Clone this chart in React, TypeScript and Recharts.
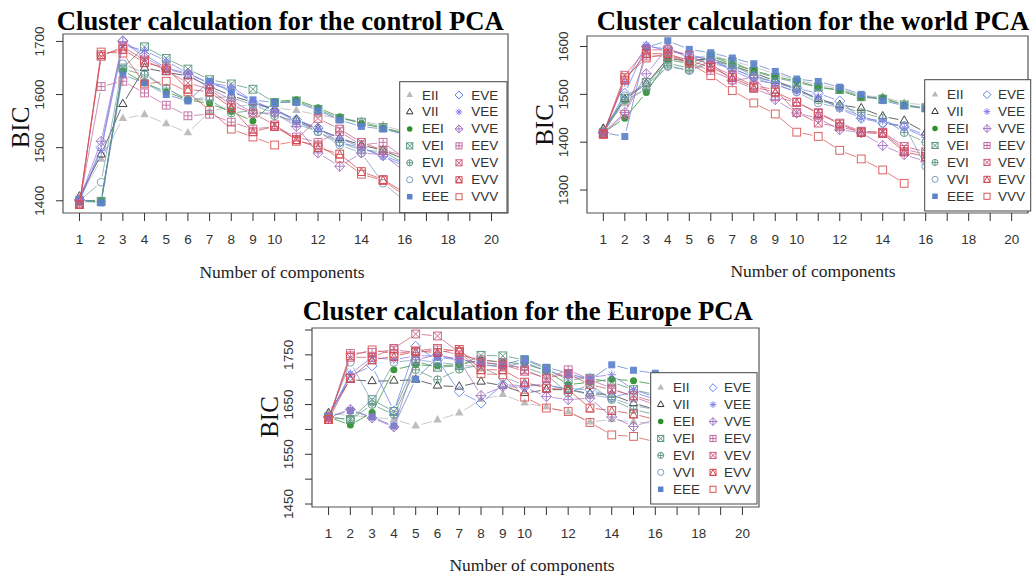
import React from 'react';
import { LineChart, Line, XAxis, YAxis, ReferenceArea } from 'recharts';

// ---------- categories / labels ----------
const models = ['EII', 'VII', 'EEI', 'VEI', 'EVI', 'VVI', 'EEE', 'EVE', 'VEE', 'VVE', 'EEV', 'VEV', 'EVV', 'VVV'];
const legendCol1 = ['EII', 'VII', 'EEI', 'VEI', 'EVI', 'VVI', 'EEE'];
const legendCol2 = ['EVE', 'VEE', 'VVE', 'EEV', 'VEV', 'EVV', 'VVV'];
const components = [1, 2, 3, 4, 5, 6, 7, 8, 9, 10, 11, 12, 13, 14, 15, 16];
const xTicks = [1, 2, 3, 4, 5, 6, 7, 8, 9, 10, 11, 12, 13, 14, 15, 16, 17, 18, 19, 20];
const xTickLabels = [1, 2, 3, 4, 5, 6, 7, 8, 9, 10, 12, 14, 16, 18, 20];

const controlYTicks = [1400, 1500, 1600, 1700];
const controlYLabels = [1400, 1500, 1600, 1700];
const worldYTicks = [1300, 1400, 1500, 1600];
const worldYLabels = [1300, 1400, 1500, 1600];
const europeYTicks = [1450, 1500, 1550, 1600, 1650, 1700, 1750, 1800];
const europeYLabels = [1450, 1550, 1650, 1750];

// ---------- control PCA BIC values (components 1..16) ----------
const controlEII = [1405, 1478, 1555, 1562, 1545, 1528, 1568, 1578, 1580, 1575, 1570, 1562, 1555, 1550, 1542, 1530];
const controlVII = [1408, 1487, 1582, 1650, 1642, 1635, 1615, 1598, 1585, 1572, 1552, 1535, 1518, 1505, 1495, 1478];
const controlEEI = [1400, 1401, 1645, 1622, 1605, 1590, 1583, 1568, 1550, 1587, 1590, 1575, 1558, 1545, 1537, 1528];
const controlVEI = [1400, 1399, 1650, 1690, 1668, 1648, 1628, 1620, 1610, 1585, 1588, 1572, 1555, 1548, 1538, 1525];
const controlEVI = [1398, 1398, 1648, 1637, 1612, 1590, 1590, 1565, 1570, 1560, 1550, 1530, 1510, 1495, 1493, 1470];
const controlVVI = [1400, 1435, 1658, 1640, 1612, 1590, 1595, 1595, 1580, 1565, 1545, 1530, 1505, 1490, 1433, 1400];
const controlEEE = [1402, 1396, 1637, 1622, 1600, 1588, 1625, 1605, 1590, 1585, 1585, 1570, 1552, 1540, 1535, 1525];
const controlEVE = [1400, 1500, 1701, 1675, 1650, 1640, 1620, 1610, 1585, 1570, 1553, 1537, 1510, 1500, 1485, 1470];
const controlVEE = [1400, 1495, 1693, 1683, 1663, 1640, 1622, 1615, 1588, 1572, 1548, 1535, 1518, 1500, 1483, 1465];
const controlVVE = [1402, 1512, 1700, 1670, 1648, 1638, 1612, 1590, 1565, 1565, 1540, 1490, 1465, 1490, 1487, 1455];
const controlEEV = [1395, 1615, 1625, 1603, 1580, 1560, 1563, 1548, 1535, 1540, 1520, 1510, 1530, 1505, 1510, 1480];
const controlVEV = [1393, 1672, 1690, 1665, 1645, 1622, 1610, 1580, 1565, 1543, 1515, 1555, 1535, 1510, 1495, 1485];
const controlEVV = [1393, 1675, 1685, 1660, 1650, 1610, 1605, 1575, 1530, 1540, 1515, 1500, 1488, 1455, 1440, 1415];
const controlVVV = [1393, 1680, 1678, 1620, 1625, 1605, 1570, 1535, 1520, 1505, 1512, 1505, 1480, 1450, 1438, 1410];

// ---------- world PCA BIC values ----------
const worldEII = [1430, 1480, 1515, 1578, 1575, 1582, 1570, 1557, 1543, 1530, 1520, 1512, 1497, 1495, 1482, 1478];
const worldVII = [1428, 1490, 1522, 1575, 1570, 1575, 1560, 1545, 1528, 1512, 1490, 1478, 1471, 1454, 1445, 1420];
const worldEEI = [1420, 1450, 1504, 1572, 1565, 1580, 1563, 1550, 1537, 1528, 1515, 1508, 1493, 1493, 1478, 1470];
const worldVEI = [1420, 1492, 1525, 1565, 1555, 1580, 1568, 1548, 1535, 1525, 1515, 1510, 1495, 1490, 1478, 1472];
const worldEVI = [1420, 1488, 1510, 1560, 1550, 1570, 1560, 1540, 1525, 1510, 1488, 1475, 1462, 1450, 1420, 1400];
const worldVVI = [1420, 1497, 1520, 1558, 1550, 1565, 1555, 1535, 1520, 1505, 1482, 1472, 1455, 1440, 1435, 1350];
const worldEEE = [1420, 1412, 1598, 1612, 1594, 1587, 1576, 1564, 1548, 1532, 1527, 1515, 1500, 1487, 1476, 1470];
const worldEVE = [1420, 1502, 1600, 1595, 1580, 1573, 1553, 1537, 1525, 1513, 1502, 1486, 1450, 1440, 1432, 1415];
const worldVEE = [1420, 1525, 1603, 1590, 1583, 1572, 1550, 1530, 1522, 1505, 1495, 1470, 1450, 1445, 1430, 1410];
const worldVVE = [1420, 1462, 1543, 1597, 1575, 1565, 1529, 1535, 1489, 1461, 1450, 1426, 1420, 1393, 1374, 1360];
const worldEEV = [1418, 1458, 1580, 1580, 1565, 1550, 1530, 1512, 1495, 1483, 1462, 1440, 1423, 1420, 1385, 1375];
const worldVEV = [1417, 1540, 1593, 1593, 1582, 1560, 1540, 1518, 1510, 1462, 1440, 1432, 1422, 1421, 1391, 1380];
const worldEVV = [1417, 1530, 1585, 1585, 1570, 1557, 1535, 1515, 1505, 1484, 1460, 1438, 1420, 1418, 1380, 1370];
const worldVVV = [1417, 1535, 1576, 1585, 1565, 1539, 1508, 1482, 1459, 1421, 1412, 1383, 1365, 1342, 1314, null];

// ---------- Europe PCA BIC values ----------
const europeEII = [1632, 1628, 1625, 1620, 1607, 1619, 1633, 1660, 1670, 1653, 1645, 1635, 1615, 1620, 1615, 1612];
const europeVII = [1633, 1700, 1697, 1698, 1700, 1688, 1686, 1696, 1688, 1673, 1680, 1680, 1672, 1670, 1653, 1640];
const europeEEI = [1625, 1609, 1634, 1720, 1730, 1728, 1730, 1740, 1735, 1732, 1718, 1690, 1695, 1701, 1698, 1690];
const europeVEI = [1625, 1620, 1660, 1636, 1737, 1725, 1728, 1749, 1748, 1740, 1722, 1700, 1703, 1695, 1680, 1670];
const europeEVI = [1625, 1619, 1650, 1630, 1720, 1700, 1721, 1730, 1728, 1725, 1710, 1673, 1690, 1660, 1640, 1630];
const europeVVI = [1625, 1735, 1655, 1735, 1740, 1735, 1730, 1725, 1705, 1690, 1690, 1680, 1670, 1663, 1648, 1640];
const europeEEE = [1625, 1638, 1625, 1607, 1701, 1745, 1740, 1735, 1730, 1742, 1725, 1713, 1700, 1730, 1719, 1713];
const europeEVE = [1625, 1708, 1728, 1637, 1767, 1740, 1676, 1653, 1690, 1688, 1688, 1682, 1680, 1665, 1675, 1660];
const europeVEE = [1625, 1712, 1745, 1740, 1748, 1748, 1742, 1730, 1725, 1735, 1718, 1705, 1705, 1710, 1680, 1665];
const europeVVE = [1625, 1640, 1623, 1605, 1740, 1750, 1740, 1668, 1686, 1685, 1666, 1660, 1663, 1625, 1606, 1620];
const europeEEV = [1620, 1753, 1755, 1760, 1755, 1760, 1750, 1740, 1735, 1720, 1702, 1720, 1700, 1683, 1665, 1650];
const europeVEV = [1620, 1745, 1745, 1763, 1792, 1788, 1755, 1735, 1730, 1717, 1703, 1712, 1690, 1680, 1668, 1655];
const europeEVV = [1620, 1703, 1740, 1747, 1757, 1755, 1761, 1720, 1720, 1695, 1683, 1680, 1643, 1638, 1631, 1620];
const europeVVV = [1620, 1748, 1760, 1752, 1758, 1763, 1757, 1712, 1710, 1665, 1643, 1636, 1614, 1589, 1586, 1575];

// ---------- styling ----------
const modelColors: Record<string, string> = {
  EII: '#b8b8b8', VII: '#333333', EEI: '#2a8f2a', VEI: '#56957a', EVI: '#5f9a80', VVI: '#7d9cb8',
  EEE: '#5d82cc', EVE: '#6483ea', VEE: '#7f7ce8', VVE: '#a474c4', EEV: '#c06aa0', VEV: '#cc5a78',
  EVV: '#d0464f', VVV: '#da5555',
};

const buildRows = (series: Record<string, (number | null)[]>) =>
  components.map((n, i) => {
    const row: Record<string, number | null> = { n };
    models.forEach((m) => { row[m] = series[m][i]; });
    return row;
  });

const controlRows = buildRows({
  EII: controlEII, VII: controlVII, EEI: controlEEI, VEI: controlVEI, EVI: controlEVI, VVI: controlVVI, EEE: controlEEE,
  EVE: controlEVE, VEE: controlVEE, VVE: controlVVE, EEV: controlEEV, VEV: controlVEV, EVV: controlEVV, VVV: controlVVV,
});
const worldRows = buildRows({
  EII: worldEII, VII: worldVII, EEI: worldEEI, VEI: worldVEI, EVI: worldEVI, VVI: worldVVI, EEE: worldEEE,
  EVE: worldEVE, VEE: worldVEE, VVE: worldVVE, EEV: worldEEV, VEV: worldVEV, EVV: worldEVV, VVV: worldVVV,
});
const europeRows = buildRows({
  EII: europeEII, VII: europeVII, EEI: europeEEI, VEI: europeVEI, EVI: europeEVI, VVI: europeVVI, EEE: europeEEE,
  EVE: europeEVE, VEE: europeVEE, VVE: europeVVE, EEV: europeEEV, VEV: europeVEV, EVV: europeEVV, VVV: europeVVV,
});

const SANS = "'Liberation Sans', Arial, Helvetica, sans-serif";
const SERIF = "'Liberation Serif', 'Times New Roman', Times, serif";

function Marker({ m, x, y, k = 1 }: { m: string; x: number; y: number; k?: number }) {
  const c = modelColors[m];
  const s = 3.9 * k;
  const sw = 1;
  const sq = (fill: string) => (
    <rect x={x - s} y={y - s} width={2 * s} height={2 * s} fill={fill} stroke={c} strokeWidth={sw} />
  );
  const plus = (r: number) => (
    <path d={`M${x - r},${y}L${x + r},${y}M${x},${y - r}L${x},${y + r}`} stroke={c} strokeWidth={sw} fill="none" />
  );
  const cross = (r: number) => (
    <path d={`M${x - r},${y - r}L${x + r},${y + r}M${x - r},${y + r}L${x + r},${y - r}`} stroke={c} strokeWidth={sw} fill="none" />
  );
  const r = s * 1.25;
  const tri = `${x},${y - r} ${x - r * 0.866},${y + r * 0.5} ${x + r * 0.866},${y + r * 0.5}`;
  const dia = `${x},${y - s * 1.3} ${x + s * 1.3},${y} ${x},${y + s * 1.3} ${x - s * 1.3},${y}`;
  switch (m) {
    case 'EII':
      return <polygon points={tri} fill={c} />;
    case 'VII':
      return <polygon points={tri} fill="none" stroke={c} strokeWidth={sw} />;
    case 'EEI':
      return <circle cx={x} cy={y} r={s * 0.9} fill={c} />;
    case 'VEI':
      return <g>{sq('none')}{cross(s)}</g>;
    case 'EVI':
      return <g><circle cx={x} cy={y} r={s} fill="none" stroke={c} strokeWidth={sw} />{plus(s)}</g>;
    case 'VVI':
      return <circle cx={x} cy={y} r={s} fill="none" stroke={c} strokeWidth={sw} />;
    case 'EEE':
      return <rect x={x - s * 0.9} y={y - s * 0.9} width={1.8 * s} height={1.8 * s} fill={c} />;
    case 'EVE':
      return <polygon points={dia} fill="none" stroke={c} strokeWidth={sw} />;
    case 'VEE':
      return <g>{plus(s * 1.1)}{cross(s * 0.8)}</g>;
    case 'VVE':
      return <g><polygon points={dia} fill="none" stroke={c} strokeWidth={sw} />{plus(s * 1.3)}</g>;
    case 'EEV':
      return <g>{sq('none')}{plus(s)}</g>;
    case 'VEV':
      return <g>{sq('none')}{cross(s)}</g>;
    case 'EVV':
      return (
        <g>
          {sq('none')}
          <polygon points={`${x},${y - s} ${x - s},${y + s} ${x + s},${y + s}`} fill="none" stroke={c} strokeWidth={sw} />
        </g>
      );
    default:
      return sq('none');
  }
}

// type="b" style: marker plus a segment to the next point with a gap around each point
const makeDot = (m: string) => (props: any) => {
  const { cx, cy, index, points } = props;
  const key = `dot-${m}-${index}`;
  if (typeof cx !== 'number' || typeof cy !== 'number' || Number.isNaN(cy)) return <g key={key} />;
  let seg: React.ReactNode = null;
  const next = points && points[index + 1];
  if (next && typeof next.x === 'number' && typeof next.y === 'number' && !Number.isNaN(next.y)) {
    const dx = next.x - cx;
    const dy = next.y - cy;
    const len = Math.hypot(dx, dy);
    const gap = 6;
    if (len > 2 * gap) {
      const ux = dx / len;
      const uy = dy / len;
      seg = (
        <line x1={cx + ux * gap} y1={cy + uy * gap} x2={next.x - ux * gap} y2={next.y - uy * gap}
          stroke={modelColors[m]} strokeWidth={1} strokeOpacity={0.8} />
      );
    }
  }
  return (
    <g key={key} opacity={0.92}>
      {seg}
      <Marker m={m} x={cx} y={cy} />
    </g>
  );
};

const makeXTick = (labels: number[]) => (props: any) => {
  const { x, y, payload } = props;
  if (!labels.includes(payload.value)) return <g />;
  return (
    <text x={x} y={y + 16} textAnchor="middle" dominantBaseline="central" fontSize={13.5} fill="#333" fontFamily={SANS}>
      {payload.value}
    </text>
  );
};

const makeYTick = (labels: number[]) => (props: any) => {
  const { x, y, payload } = props;
  if (!labels.includes(payload.value)) return <g />;
  const cx = x - 14;
  return (
    <text x={cx} y={y} transform={`rotate(-90, ${cx}, ${y})`} textAnchor="middle" dominantBaseline="central"
      fontSize={13.5} fill="#333" fontFamily={SANS}>
      {payload.value}
    </text>
  );
};

type PanelProps = {
  rows: any[];
  left: number; top: number; width: number; height: number;
  margin: { top: number; right: number; bottom: number; left: number };
  yDomain: [number, number];
  yTicks: number[];
  yLabels: number[];
};

const X_DOMAIN: [number, number] = [0.24, 20.76];

function Panel({ rows, left, top, width, height, margin, yDomain, yTicks, yLabels }: PanelProps) {
  return (
    <div style={{ position: 'absolute', left, top, width, height }}>
      <LineChart width={width} height={height} data={rows} margin={margin}>
        <XAxis type="number" dataKey="n" domain={X_DOMAIN} allowDataOverflow ticks={xTicks} interval={0}
          height={40} tickSize={8} axisLine={false} tickLine={{ stroke: '#333' }} tick={makeXTick(xTickLabels)} />
        <YAxis type="number" domain={yDomain} allowDataOverflow ticks={yTicks} interval={0} width={50}
          tickSize={7} axisLine={false} tickLine={{ stroke: '#333' }} tick={makeYTick(yLabels)} />
        <ReferenceArea x1={X_DOMAIN[0]} x2={X_DOMAIN[1]} y1={yDomain[0]} y2={yDomain[1]} fill="none"
          fillOpacity={0} stroke="#555" strokeWidth={1.2} strokeOpacity={1} ifOverflow="visible" />
        {models.map((m) => (
          <Line key={m} type="linear" dataKey={m} stroke="none" isAnimationActive={false} dot={makeDot(m)}
            activeDot={false} legendType="none" />
        ))}
      </LineChart>
    </div>
  );
}

function LegendBox({ x, y, w, h, row0, rowStep, sym1, txt1, sym2, txt2 }: any) {
  return (
    <g>
      <rect x={x} y={y} width={w} height={h} fill="#fff" stroke="#444" strokeWidth={1} />
      {legendCol1.map((m, i) => (
        <g key={m}>
          <Marker m={m} x={x + sym1} y={row0 + i * rowStep} k={0.78} />
          <text x={x + txt1} y={row0 + i * rowStep} dominantBaseline="central" fontSize={13.5} fill="#333" fontFamily={SANS}>{m}</text>
        </g>
      ))}
      {legendCol2.map((m, i) => (
        <g key={m}>
          <Marker m={m} x={x + sym2} y={row0 + i * rowStep} k={0.78} />
          <text x={x + txt2} y={row0 + i * rowStep} dominantBaseline="central" fontSize={13.5} fill="#333" fontFamily={SANS}>{m}</text>
        </g>
      ))}
    </g>
  );
}

export default function App() {
  return (
    <div style={{ position: 'absolute', left: 0, top: 0, width: 1035, height: 578, background: '#fff', overflow: 'hidden' }}>
      <Panel rows={controlRows} left={0} top={0} width={520} height={290}
        margin={{ top: 34, right: 12, bottom: 37, left: 13 }} yDomain={[1377, 1714]} yTicks={controlYTicks} yLabels={controlYLabels} />
      <Panel rows={worldRows} left={520} top={0} width={515} height={290}
        margin={{ top: 36, right: 7, bottom: 37, left: 17 }} yDomain={[1252, 1622]} yTicks={worldYTicks} yLabels={worldYLabels} />
      <Panel rows={europeRows} left={250} top={290} width={520} height={290}
        margin={{ top: 38, right: 11, bottom: 33, left: 12 }} yDomain={[1444, 1804]} yTicks={europeYTicks} yLabels={europeYLabels} />

      <svg width={1035} height={578} style={{ position: 'absolute', left: 0, top: 0, pointerEvents: 'none' }}>
        <text x={280.3} y={30.3} textAnchor="middle" fontFamily={SERIF} fontWeight="bold" fontSize={26.7} fill="#000">
          Cluster calculation for the control PCA
        </text>
        <text x={813} y={30.3} textAnchor="middle" fontFamily={SERIF} fontWeight="bold" fontSize={26.7} fill="#000">
          Cluster calculation for the world PCA
        </text>
        <text x={527.8} y={320} textAnchor="middle" fontFamily={SERIF} fontWeight="bold" fontSize={26.7} fill="#000">
          Cluster calculation for the Europe PCA
        </text>

        <text x={20} y={127.5} transform="rotate(-90, 20, 127.5)" textAnchor="middle" dominantBaseline="central"
          fontFamily={SERIF} fontSize={25} fill="#111">BIC</text>
        <text x={544.5} y={125} transform="rotate(-90, 544.5, 125)" textAnchor="middle" dominantBaseline="central"
          fontFamily={SERIF} fontSize={25} fill="#111">BIC</text>
        <text x={269.5} y={417} transform="rotate(-90, 269.5, 417)" textAnchor="middle" dominantBaseline="central"
          fontFamily={SERIF} fontSize={25} fill="#111">BIC</text>

        <text x={282} y={277.5} textAnchor="middle" fontFamily={SERIF} fontSize={17.5} fill="#222">Number of components</text>
        <text x={813} y={277} textAnchor="middle" fontFamily={SERIF} fontSize={17.5} fill="#222">Number of components</text>
        <text x={532} y={570.7} textAnchor="middle" fontFamily={SERIF} fontSize={17.5} fill="#222">Number of components</text>

        <LegendBox x={399.7} y={81.7} w={107.3} h={131} row0={95} rowStep={16.95} sym1={10} txt1={22.3} sym2={59.3} txt2={71.6} />
        <LegendBox x={924.7} y={79.7} w={106} h={131.3} row0={94.7} rowStep={16.93} sym1={10.3} txt1={22.3} sym2={62.3} txt2={73.3} />
        <LegendBox x={650.7} y={372.7} w={106.3} h={131.3} row0={387.7} rowStep={16.93} sym1={10} txt1={22.3} sym2={62.3} txt2={73.3} />
      </svg>
    </div>
  );
}
